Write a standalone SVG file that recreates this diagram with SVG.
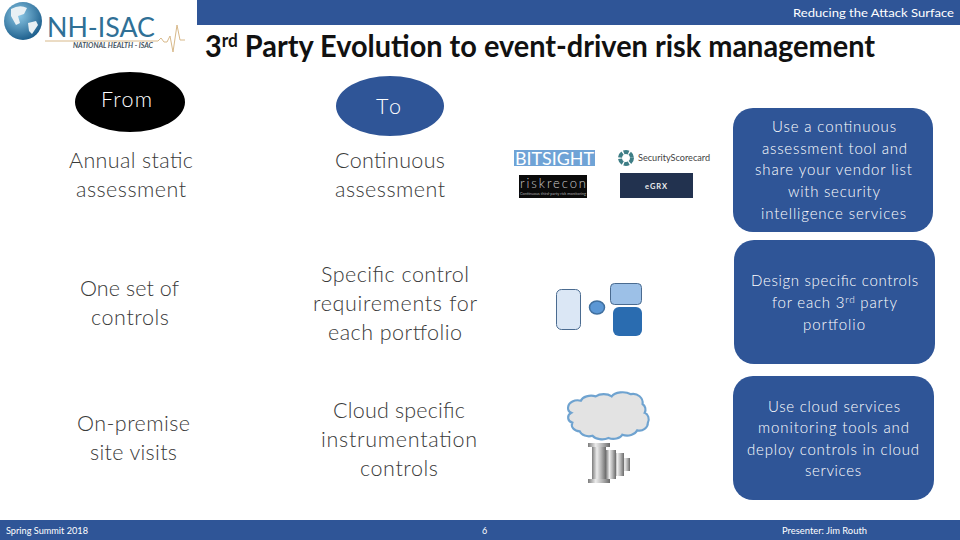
<svg xmlns="http://www.w3.org/2000/svg" width="960" height="540" viewBox="0 0 960 540">
<defs>
<linearGradient id="pillar" x1="0" x2="1" y1="0" y2="0"><stop offset="0" stop-color="#7c7c7c"/><stop offset=".35" stop-color="#ececec"/><stop offset=".65" stop-color="#b5b5b5"/><stop offset="1" stop-color="#6a6a6a"/></linearGradient>
<radialGradient id="globe" cx=".4" cy=".35" r=".7"><stop offset="0" stop-color="#8cc8e6"/><stop offset="1" stop-color="#185a88"/></radialGradient>
</defs>
<style>
text{font-family:Lato,"Liberation Sans",sans-serif;fill:#3a3a3a}
.m{font-size:21.500px;font-weight:300}
.s{font-size:15px;font-weight:300;fill:#fff}
.f{font-size:9px;fill:#fff}
.bar,.card{fill:#2f5597}
</style>
<rect width="960" height="540" fill="#fff"/>
<rect id="top-bar" class="bar" x="197" y="0" width="763" height="25"/>
<rect id="bottom-bar" class="bar" x="0" y="520" width="960" height="20"/>
<text x="793" y="17" textLength="161" lengthAdjust="spacingAndGlyphs" style="font-size:12px;font-weight:400;fill:#fff">Reducing the Attack Surface</text>
<g id="logo">
<path d="M45 41H158l3-3 3 4 3 0 3-6 3 16 4-27 3 15 H185" fill="none" stroke="#d8b98a" stroke-width="1"/>
<circle cx="23" cy="21" r="19" fill="url(#globe)"/>
<path d="M11 9q9-5 16-1l-3 6-6 2 2 7-4 2-5-9zM28 23l8-2 2 4-6 9-3-3z" fill="#e8f0f4"/>
<text x="47" y="37" textLength="108" lengthAdjust="spacingAndGlyphs" style="font-size:26px;font-weight:400;fill:#2f7096">NH-ISAC</text>
<text x="73" y="48" textLength="80" lengthAdjust="spacingAndGlyphs" style="font-size:6.500px;font-weight:700;font-style:italic;fill:#44525e">NATIONAL HEALTH - ISAC</text>
</g>
<text id="title" x="205" y="57" textLength="670" lengthAdjust="spacingAndGlyphs" style="font-size:30px;font-weight:700;fill:#111">3<tspan dy="-10" font-size="18">rd</tspan><tspan dy="10"> Party Evolution to event-driven risk management</tspan></text>
<g id="from"><ellipse cx="130" cy="102" rx="55" ry="30" fill="#000"/><text x="101" y="107" textLength="51" style="font-size:21.500px;fill:#fff;font-weight:300">From</text></g>
<g id="to"><ellipse cx="390" cy="106" rx="54" ry="30" fill="#2f5597"/><text x="376" y="114" textLength="25" style="font-size:21.500px;fill:#fff;font-weight:300">To</text></g>
<g id="left-col">
<text class="m" x="69" y="168" textLength="124">Annual static</text><text class="m" x="76" y="197" textLength="110">assessment</text>
<text class="m" x="80" y="296" textLength="99">One set of</text><text class="m" x="91" y="325" textLength="78">controls</text>
<text class="m" x="77" y="431" textLength="113">On-premise</text><text class="m" x="90" y="460" textLength="87">site visits</text>
</g>
<g id="mid-col">
<text class="m" x="335" y="168" textLength="110">Continuous</text><text class="m" x="335" y="197" textLength="110">assessment</text>
<text class="m" x="321" y="282" textLength="148">Specific control</text><text class="m" x="313" y="311" textLength="164">requirements for</text><text class="m" x="328" y="340" textLength="134">each portfolio</text>
<text class="m" x="333" y="418" textLength="132">Cloud specific</text><text class="m" x="321" y="447" textLength="156">instrumentation</text><text class="m" x="360" y="476" textLength="78">controls</text>
</g>
<g id="vendor-logos">
<rect x="514" y="150" width="81" height="16" fill="#6fa3d6"/><text x="515" y="165" textLength="79" lengthAdjust="spacingAndGlyphs" style="font-size:18px;fill:#fff;font-weight:400">BITSIGHT</text>
<circle cx="626" cy="158" r="6" fill="none" stroke="#3e7e86" stroke-width="4" stroke-dasharray="5 1.300"/>
<text x="638" y="161" textLength="72" lengthAdjust="spacingAndGlyphs" style="font-size:9px;fill:#444">SecurityScorecard</text>
<rect x="519" y="175" width="68" height="23" fill="#0a0a0a"/><text x="520" y="188" textLength="66" style="font-size:13px;font-weight:300;fill:#ccc">riskrecon</text><text x="520" y="195" textLength="66" lengthAdjust="spacingAndGlyphs" style="font-size:4px;fill:#aaa">Continuous third-party risk monitoring</text>
<rect x="620" y="173" width="73" height="25" fill="#22324f"/><text x="645" y="189" textLength="22" style="font-size:7.500px;fill:#eee;font-weight:700">eGRX</text>
</g>
<g id="portfolio-icons">
<rect x="556.500" y="289.500" width="24" height="40" rx="5" fill="#dbe7f5" stroke="#4a6b90"/>
<ellipse cx="597" cy="307.500" rx="7.500" ry="6.500" fill="#5b97d5" stroke="#3f6f9f" stroke-width="1.500"/>
<rect x="610.500" y="283.500" width="31" height="21" rx="4" fill="#9cc0e7" stroke="#4a6b90"/>
<rect x="613" y="307" width="29" height="29" rx="6" fill="#2a6cb0"/>
</g>
<g id="cloud-icon">
<path transform="translate(567 392) scale(1.064 1.095) translate(-573 -391)" d="M574 405a9 7 0 0 1 12-6a10 6 0 0 1 14-4a10 6 0 0 1 15 0a11 6 0 0 1 18-2a9 8 0 0 1 11 9a6 6 0 0 1 2 8a5 6 0 0 1 3 9a8 7 0 0 1-10 7a10 7 0 0 1-14 4a9 6 0 0 1-13 3a10 6 0 0 1-15-2a9 6 0 0 1-12-4a8 6 0 0 1-7-8a6 5 0 0 1-1-9a6 5 0 0 1-3-5z" fill="#e3e3e3" stroke="#6fa3d0" stroke-width="2"/>
</g>
<g id="pillars-icon">
<rect x="622" y="458" width="8" height="13" fill="url(#pillar)"/>
<rect x="614" y="453" width="10" height="23" fill="url(#pillar)"/>
<rect x="606" y="450" width="10" height="29" fill="url(#pillar)"/>
<rect x="592" y="446" width="14" height="35" fill="url(#pillar)"/>
<rect x="588" y="443" width="22" height="4" fill="url(#pillar)"/>
<rect x="588" y="479" width="22" height="4" fill="url(#pillar)"/>
</g>
<g id="card-1"><rect class="card" x="733" y="108" width="200" height="124" rx="20"/>
<text class="s" x="772" y="132" textLength="124">Use a continuous</text><text class="s" x="762" y="153.500" textLength="145">assessment tool and</text><text class="s" x="755" y="175" textLength="157">share your vendor list</text><text class="s" x="788" y="197" textLength="92">with security</text><text class="s" x="761" y="218.500" textLength="145">intelligence services</text></g>
<g id="card-2"><rect class="card" x="734" y="240" width="201" height="124" rx="20"/>
<text class="s" x="751" y="285.500" textLength="167">Design specific controls</text>
<text class="s" x="772" y="307.500" textLength="125">for each 3<tspan dy="-5" font-size="10">rd</tspan><tspan dy="5"> party</tspan></text>
<text class="s" x="803" y="329.500" textLength="62">portfolio</text></g>
<g id="card-3"><rect class="card" x="733" y="376" width="201" height="124" rx="20"/>
<text class="s" x="768" y="411.500" textLength="132">Use cloud services</text><text class="s" x="758" y="432.500" textLength="151">monitoring tools and</text><text class="s" x="747" y="454.500" textLength="172">deploy controls in cloud</text><text class="s" x="805" y="475.500" textLength="56">services</text></g>
<text x="6" y="534" class="f" textLength="82" lengthAdjust="spacingAndGlyphs">Spring Summit 2018</text>
<text x="482" y="534" class="f">6</text>
<text x="782" y="534" class="f" textLength="85" lengthAdjust="spacingAndGlyphs">Presenter: Jim Routh</text>
</svg>
